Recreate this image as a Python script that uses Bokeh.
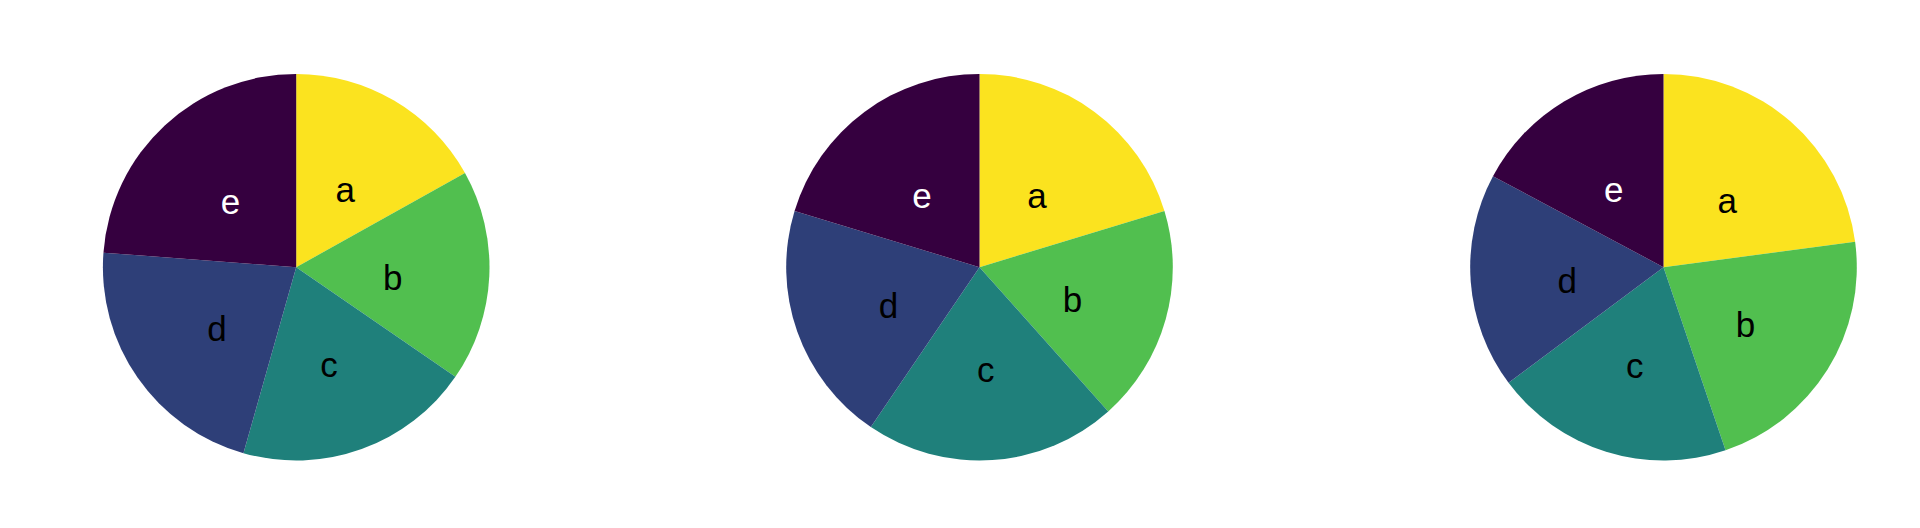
import numpy as np
from bokeh.plotting import figure
from bokeh.models import ColumnDataSource, Range1d
from bokeh.core.properties import value
from bokeh.embed import file_html
from bokeh.resources import INLINE

# ---- data (percent shares) ----
categories = ["a", "b", "c", "d", "e"]
pie1 = [16.9, 17.7, 19.8, 21.8, 23.8]
pie2 = [20.3, 18.1, 21.1, 20.2, 20.3]
pie3 = [22.9, 21.9, 20.0, 18.0, 17.2]
pies = [pie1, pie2, pie3]

colors = ["#fbe31f", "#51bf4f", "#1f807b", "#2e3f78", "#35003f"]
label_colors = ["black", "black", "black", "black", "white"]

# ---- layout ----
W, H = 1904, 512
centers_x = [295.7, 979.0, 1663.0]
center_y = 245.3
R = 193.3
LABEL_R = 0.5 * R

p = figure(width=W, height=H, x_range=Range1d(0, W), y_range=Range1d(0, H),
           output_backend="svg", toolbar_location=None, min_border=0,
           x_axis_type=None, y_axis_type=None)
p.grid.visible = False
p.outline_line_color = None
p.background_fill_color = "white"
p.border_fill_color = "white"

for cx, vals in zip(centers_x, pies):
    v = np.array(vals, dtype=float)
    frac = v / v.sum()
    cum_end = np.cumsum(frac)
    cum_start = cum_end - frac
    start = np.pi / 2 - 2 * np.pi * cum_start
    end = np.pi / 2 - 2 * np.pi * cum_end
    mid = (start + end) / 2
    src = ColumnDataSource(dict(
        x=[cx] * len(v), y=[center_y] * len(v),
        start=list(start), end=list(end), color=colors,
        lx=list(cx + LABEL_R * np.cos(mid)),
        ly=list(center_y + LABEL_R * np.sin(mid)),
        label=categories, tcolor=label_colors,
    ))
    p.wedge(x="x", y="y", radius=R, start_angle="start", end_angle="end",
            direction="clock", fill_color="color", line_color=None,
            source=src)
    p.text(x="lx", y="ly", text="label", text_color="tcolor",
           text_font=value("Liberation Sans"), text_font_size="35px",
           text_align="center", text_baseline="alphabetic", y_offset=6,
           source=src)

open("out.html", "w").write(file_html(p, INLINE))
